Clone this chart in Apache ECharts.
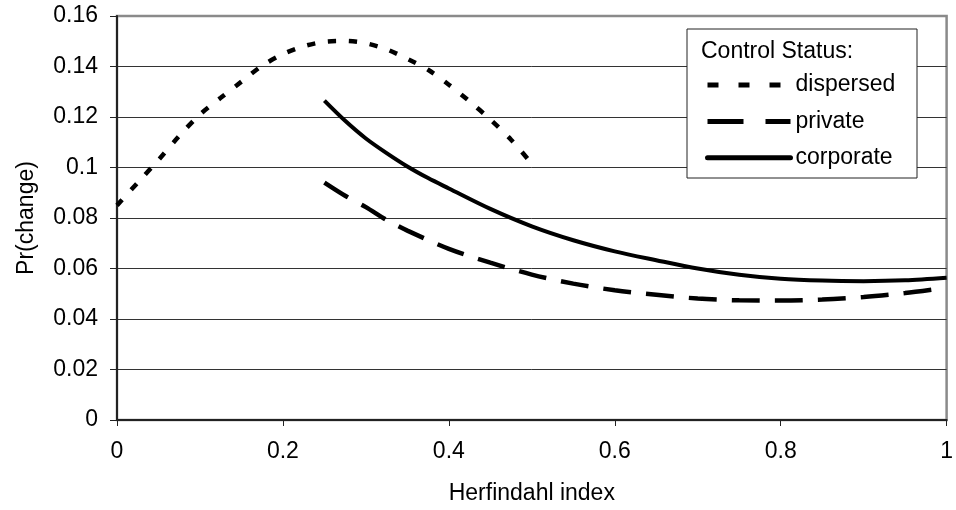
<!DOCTYPE html>
<html>
<head>
<meta charset="utf-8">
<script src="https://cdn.jsdelivr.net/npm/echarts@6/dist/echarts.min.js"></script>
<style>html,body{margin:0;padding:0;background:#fff;}#c{width:956px;height:510px;}</style>
</head>
<body>
<div id="c"></div>
<script>
var seriesNames = ['dispersed', 'private', 'corporate'];
var legendTitle = 'Control Status:';
var xAxisName = 'Herfindahl index';
var yAxisName = 'Pr(change)';
var xTicks = [0, 0.2, 0.4, 0.6, 0.8, 1];
var yTicks = [0, 0.02, 0.04, 0.06, 0.08, 0.1, 0.12, 0.14, 0.16];

var dispersedX = [0, 0.025, 0.05, 0.075, 0.1, 0.125, 0.15, 0.175, 0.2, 0.225, 0.25, 0.275, 0.3, 0.325, 0.35, 0.375, 0.4, 0.425, 0.45, 0.475, 0.5];
var dispersedY = [0.085, 0.094, 0.103, 0.1125, 0.121, 0.1276, 0.134, 0.1403, 0.1449, 0.148, 0.1498, 0.1501, 0.1492, 0.1468, 0.143, 0.1387, 0.1328, 0.1262, 0.119, 0.111, 0.1015];

var privateX = [0.25, 0.275, 0.3, 0.325, 0.35, 0.4, 0.45, 0.5, 0.55, 0.6, 0.65, 0.7, 0.75, 0.8, 0.85, 0.9, 0.95, 0.99];
var privateY = [0.094, 0.0888, 0.0843, 0.0792, 0.075, 0.0678, 0.0623, 0.0576, 0.054, 0.0514, 0.0496, 0.0481, 0.0474, 0.0473, 0.0477, 0.0487, 0.0503, 0.052];

var corporateX = [0.25, 0.275, 0.3, 0.325, 0.35, 0.375, 0.4, 0.45, 0.5, 0.55, 0.6, 0.65, 0.7, 0.75, 0.8, 0.85, 0.9, 0.95, 1.0];
var corporateY = [0.1265, 0.1185, 0.1115, 0.1057, 0.1004, 0.0958, 0.0917, 0.0836, 0.0767, 0.0712, 0.0668, 0.0633, 0.06, 0.0575, 0.0559, 0.0552, 0.055, 0.0553, 0.0563];

function pairs(xs, ys) { return xs.map(function (x, i) { return [x, ys[i]]; }); }

var FONT = '"Liberation Sans", Arial, sans-serif';
var FS = 23;

var splitColors = yTicks.map(function (t, i) { return i === yTicks.length - 1 ? '#8a8a8a' : '#333'; });

var chart = echarts.init(document.getElementById('c'), null, { renderer: 'canvas' });
chart.setOption({
  animation: false,
  backgroundColor: '#fff',
  textStyle: { fontFamily: FONT },
  grid: { left: 117, right: 6, top: 16, bottom: 88, show: true, borderColor: '#8a8a8a', borderWidth: 2.5, backgroundColor: '#fff' },
  xAxis: {
    type: 'value', min: xTicks[0], max: xTicks[xTicks.length - 1], interval: 0.2,
    name: xAxisName, nameLocation: 'middle', nameGap: 62,
    nameTextStyle: { fontSize: FS, color: '#000', fontFamily: FONT },
    axisLine: { show: true, lineStyle: { color: '#222', width: 2 } },
    axisTick: { show: true, length: 6, lineStyle: { color: '#222', width: 1 } },
    axisLabel: { margin: 20, fontSize: FS, color: '#000', fontFamily: FONT },
    splitLine: { show: false }
  },
  yAxis: {
    type: 'value', min: yTicks[0], max: yTicks[yTicks.length - 1], interval: 0.02,
    name: yAxisName, nameLocation: 'middle', nameGap: 79,
    nameTextStyle: { fontSize: FS, color: '#000', fontFamily: FONT },
    axisLine: { show: true, lineStyle: { color: '#222', width: 2 } },
    axisTick: { show: true, length: 7, lineStyle: { color: '#222', width: 1 } },
    axisLabel: { margin: 19, fontSize: FS, color: '#000', fontFamily: FONT },
    splitLine: { show: true, lineStyle: { color: splitColors, width: 1 } }
  },
  legend: {
    z: 100,
    orient: 'vertical', left: 705, top: 73.5, padding: 0,
    itemWidth: 83, itemHeight: 14, itemGap: 13.4,
    itemStyle: { opacity: 0 },
    lineStyle: { width: 5, cap: 'butt' },
    textStyle: { fontSize: FS, color: '#000', fontFamily: FONT, padding: [0, 0, 0, 0] },
    data: [
      { name: seriesNames[0], lineStyle: { type: [11, 20], width: 5, cap: 'butt' } },
      { name: seriesNames[1], lineStyle: { type: [36, 22], width: 5, cap: 'butt' } },
      { name: seriesNames[2], lineStyle: { width: 5, cap: 'round' } }
    ]
  },
  graphic: [
    { type: 'rect', z: 90, shape: { x: 687, y: 29, width: 230, height: 149 }, style: { fill: '#fff', stroke: '#222', lineWidth: 1 } },
    { type: 'text', z: 91, style: { x: 701, y: 52, text: legendTitle, fill: '#000', font: FS + 'px ' + FONT, textVerticalAlign: 'middle', verticalAlign: 'middle' } }
  ],
  series: [
    { name: seriesNames[0], type: 'line', smooth: 0.3, showSymbol: false, symbol: 'none', data: pairs(dispersedX, dispersedY),
      lineStyle: { color: '#000', width: 4.5, type: [8, 13], cap: 'butt' }, itemStyle: { color: '#000' } },
    { name: seriesNames[1], type: 'line', smooth: 0.3, showSymbol: false, symbol: 'none', data: pairs(privateX, privateY),
      lineStyle: { color: '#000', width: 4.5, type: [28, 15], cap: 'butt' }, itemStyle: { color: '#000' } },
    { name: seriesNames[2], type: 'line', smooth: 0.3, showSymbol: false, symbol: 'none', data: pairs(corporateX, corporateY),
      lineStyle: { color: '#000', width: 4, type: 'solid' }, itemStyle: { color: '#000' } }
  ]
});
</script>
</body>
</html>
